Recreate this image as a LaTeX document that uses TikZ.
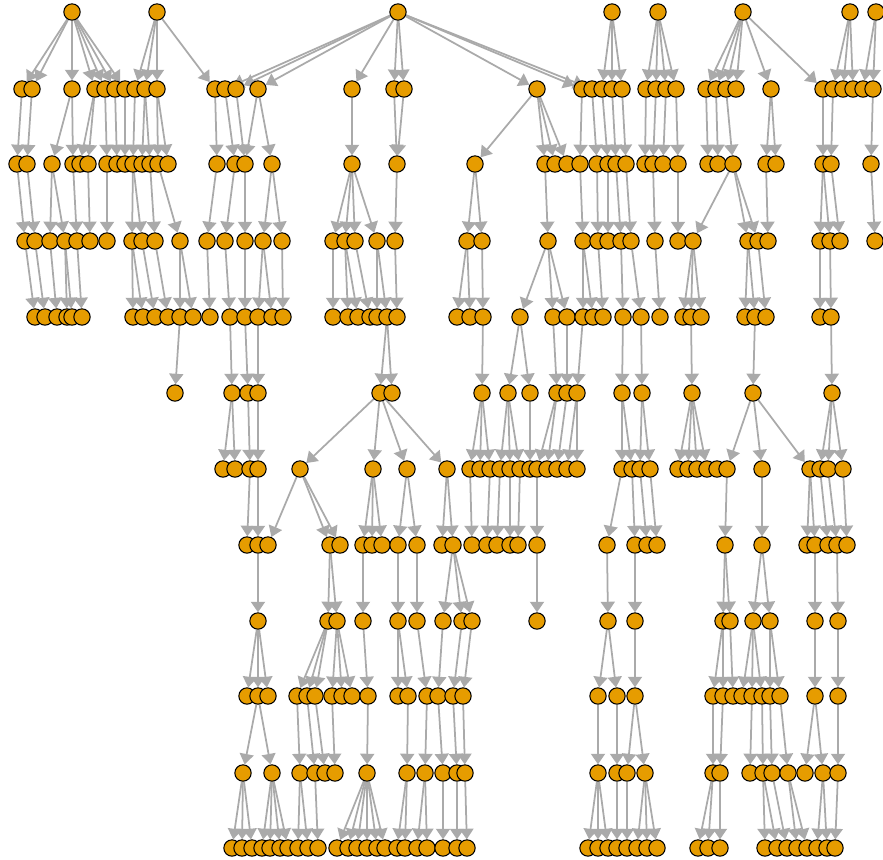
\documentclass[tikz,border=0pt]{standalone}
\usepackage{tikz}
\usetikzlibrary{arrows.meta,backgrounds}
\definecolor{nodeorange}{RGB}{230,156,0}
\definecolor{edgegray}{RGB}{170,170,170}

\begin{document}
\begin{tikzpicture}[x=0.03cm,y=-0.03cm,
  vtx/.style={circle,draw=black,line width=0.9pt,fill=nodeorange,minimum size=0.49cm,inner sep=0pt},
  edge/.style={draw=edgegray,line width=1.5pt,-{Triangle[width=12pt,length=9pt]}}]
\useasboundingbox (0,0) rectangle (883,860);
% vertices, one row per level
\foreach \x in {72,157,398,612,658,743,850,876}
    \node[vtx] (n0-\x) at (\x,12) {};
\foreach \x in {22,32,72,95,105,115,125,135,145,157,215,225,236,258,352,394,404,537,582,592,602,612,622,646,656,666,676,706,716,726,736,771,823,833,843,853,863,873}
    \node[vtx] (n1-\x) at (\x,89) {};
\foreach \x in {17,27,52,73,80,88,107,117,125,133,142,150,158,168,217,235,245,272,352,397,475,545,555,567,580,597,608,616,626,645,653,663,678,708,718,733,766,776,823,831,871}
    \node[vtx] (n2-\x) at (\x,164) {};
\foreach \x in {25,35,50,65,77,90,107,132,142,155,180,207,225,245,263,282,333,345,355,377,395,467,482,548,583,598,608,621,631,655,678,693,748,758,768,820,830,840,875}
    \node[vtx] (n3-\x) at (\x,241) {};
\foreach \x in {35,45,57,67,72,82,133,143,155,168,180,193,210,230,245,258,272,283,333,348,358,370,377,387,397,457,470,483,520,553,567,583,593,603,623,641,660,683,691,701,745,755,766,820,831}
    \node[vtx] (n4-\x) at (\x,317) {};
\foreach \x in {175,232,248,258,380,392,482,508,530,557,567,577,622,642,692,753,832}
    \node[vtx] (n5-\x) at (\x,393) {};
\foreach \x in {223,235,250,258,300,373,407,447,470,480,490,500,510,520,530,537,547,557,567,577,622,632,640,650,678,688,697,707,717,727,762,810,820,828,843}
    \node[vtx] (n6-\x) at (\x,469) {};
\foreach \x in {247,258,268,330,340,363,372,382,398,417,442,453,472,487,497,510,518,537,607,635,647,657,725,762,807,815,828,837,847}
    \node[vtx] (n7-\x) at (\x,545) {};
\foreach \x in {258,328,337,363,398,417,443,462,472,537,608,635,723,730,753,770,815,838}
    \node[vtx] (n8-\x) at (\x,621) {};
\foreach \x in {247,258,268,297,307,315,332,342,352,368,398,408,427,438,453,463,598,617,635,713,723,733,742,752,762,770,780,815,838}
    \node[vtx] (n9-\x) at (\x,696) {};
\foreach \x in {243,272,300,315,325,335,367,407,425,443,457,465,598,617,627,645,713,720,750,763,772,788,805,823,838}
    \node[vtx] (n10-\x) at (\x,773) {};
\foreach \x in {232,242,252,262,270,280,288,298,308,318,337,348,357,367,377,385,397,405,417,427,443,457,467,588,598,608,617,627,637,647,657,698,708,720,765,777,787,797,807,817,827,835}
    \node[vtx] (n11-\x) at (\x,848) {};
% arcs, parent/child
\begin{scope}[on background layer]
\foreach \a/\b in {72/22,72/32,72/72,72/95,72/105,72/115,72/125,157/135,157/145,157/157,157/215,398/225,398/236,398/258,398/352,398/394,398/404,398/537,398/582,398/592,612/602,612/612,612/622,658/646,658/656,658/666,658/676,743/706,743/716,743/726,743/736,743/771,743/823,850/833,850/843,850/853,876/863,876/873}
    \draw[edge] (n0-\a) -- (n1-\b);
\foreach \a/\b in {22/17,32/27,72/52,72/73,95/80,95/88,105/107,115/117,125/125,135/133,145/142,145/150,157/158,157/168,215/217,225/235,236/245,258/245,258/272,352/352,394/397,404/397,537/475,537/545,537/555,537/567,582/580,592/597,602/608,612/616,622/626,646/645,656/653,666/663,676/678,706/708,716/718,726/733,771/766,771/776,823/823,833/831,873/871}
    \draw[edge] (n1-\a) -- (n2-\b);
\foreach \a/\b in {17/25,27/35,52/50,52/65,73/77,88/90,107/107,133/132,133/142,150/155,158/180,217/207,235/225,245/245,272/263,272/282,352/333,352/345,352/355,352/377,397/395,475/467,475/482,545/548,580/583,597/598,608/608,616/621,626/631,653/655,678/678,733/693,733/748,733/758,766/768,823/820,823/830,831/840,871/875}
    \draw[edge] (n2-\a) -- (n3-\b);
\foreach \a/\b in {25/35,35/45,50/57,65/67,65/72,77/82,132/133,132/143,142/155,155/168,180/180,180/193,207/210,225/230,245/245,263/258,263/272,282/283,333/333,345/348,345/358,355/370,377/377,377/387,395/397,467/457,467/470,482/483,548/520,548/553,548/567,583/583,583/593,598/603,621/623,631/641,655/660,693/683,693/691,693/701,748/745,748/755,758/766,820/820,830/831}
    \draw[edge] (n3-\a) -- (n4-\b);
\foreach \a/\b in {180/175,230/232,245/248,258/258,387/380,387/392,483/482,520/508,520/530,553/557,567/567,583/577,623/622,641/642,691/692,755/753,831/832}
    \draw[edge] (n4-\a) -- (n5-\b);
\foreach \a/\b in {232/223,232/235,248/250,258/258,380/300,380/373,380/407,380/447,482/470,482/480,482/490,508/500,508/510,508/520,530/530,557/537,557/547,567/557,577/567,577/577,622/622,622/632,642/640,642/650,692/678,692/688,692/697,692/707,753/727,753/762,753/810,832/820,832/828,832/843}
    \draw[edge] (n5-\a) -- (n6-\b);
\foreach \a/\b in {250/247,258/258,300/268,300/330,300/340,373/363,373/372,373/382,407/398,407/417,447/442,447/453,470/472,490/487,500/497,510/510,520/518,537/537,622/607,632/635,640/647,650/657,727/725,762/762,810/807,810/815,820/828,828/837,843/847}
    \draw[edge] (n6-\a) -- (n7-\b);
\foreach \a/\b in {258/258,330/328,330/337,363/363,398/398,417/417,453/443,453/462,453/472,537/537,607/608,635/635,725/723,725/730,762/753,762/770,815/815,837/838}
    \draw[edge] (n7-\a) -- (n8-\b);
\foreach \a/\b in {258/247,258/258,258/268,328/297,328/307,328/315,337/332,337/342,337/352,363/368,398/398,398/408,417/427,443/438,462/453,472/463,608/598,608/617,635/635,723/713,723/723,730/733,753/742,753/752,753/762,770/770,770/780,815/815,838/838}
    \draw[edge] (n8-\a) -- (n9-\b);
\foreach \a/\b in {258/243,258/272,297/300,307/315,315/325,332/335,368/367,408/407,427/425,438/443,453/457,463/465,598/598,617/617,635/627,635/645,713/713,723/720,752/750,762/763,770/772,780/788,815/805,815/823,838/838}
    \draw[edge] (n9-\a) -- (n10-\b);
\foreach \a/\b in {243/232,243/242,243/252,272/262,272/270,272/280,272/288,300/298,300/308,315/318,367/337,367/348,367/357,367/367,367/377,367/385,407/397,407/405,425/417,425/427,443/443,457/457,465/467,598/588,598/598,598/608,617/617,627/627,645/637,645/647,645/657,713/698,713/708,720/720,763/765,763/777,772/787,788/797,788/807,823/817,823/827,838/835}
    \draw[edge] (n10-\a) -- (n11-\b);
\end{scope}
\end{tikzpicture}
\end{document}
